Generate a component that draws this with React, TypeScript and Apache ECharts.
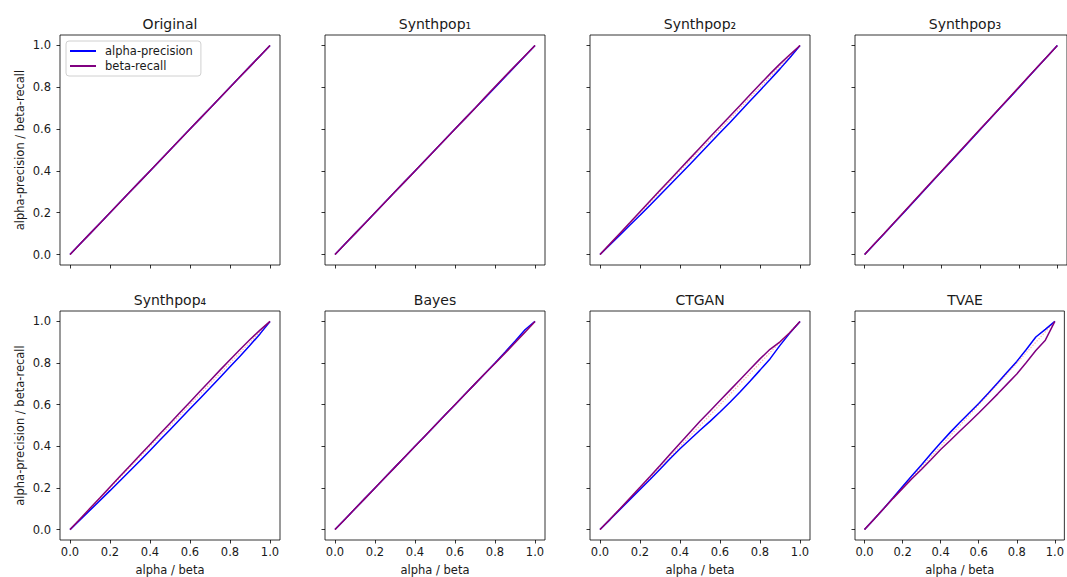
import { useEffect, useRef } from 'react';
import * as echarts from 'echarts';

// Shared alpha / beta grid for every curve
const ALPHA = [0, 0.05, 0.1, 0.15, 0.2, 0.25, 0.3, 0.35, 0.4, 0.45, 0.5, 0.55, 0.6, 0.65, 0.7, 0.75, 0.8, 0.85, 0.9, 0.95, 1.0];

const PANEL_TITLES = ['Original', 'Synthpop₁', 'Synthpop₂', 'Synthpop₃', 'Synthpop₄', 'Bayes', 'CTGAN', 'TVAE'];
const TICKS = [0, 0.2, 0.4, 0.6, 0.8, 1.0];

// alpha-precision curves, one per dataset
const ORIGINAL_AP = [0, 0.05, 0.1, 0.15, 0.2, 0.25, 0.3, 0.35, 0.4, 0.45, 0.5, 0.55, 0.6, 0.65, 0.7, 0.75, 0.8, 0.85, 0.9, 0.95, 1.0];
const SYNTHPOP1_AP = [0, 0.05, 0.1, 0.15, 0.2, 0.25, 0.3, 0.35, 0.4, 0.45, 0.5, 0.55, 0.6, 0.65, 0.7, 0.749, 0.799, 0.849, 0.9, 0.95, 1.0];
const SYNTHPOP2_AP = [0, 0.047, 0.094, 0.141, 0.188, 0.236, 0.285, 0.334, 0.383, 0.432, 0.482, 0.532, 0.582, 0.632, 0.683, 0.734, 0.785, 0.836, 0.888, 0.942, 1.0];
const SYNTHPOP3_AP = [0, 0.049, 0.098, 0.148, 0.198, 0.248, 0.298, 0.348, 0.398, 0.448, 0.498, 0.548, 0.598, 0.648, 0.698, 0.748, 0.798, 0.849, 0.899, 0.95, 1.0];
const SYNTHPOP4_AP = [0, 0.046, 0.093, 0.14, 0.187, 0.235, 0.283, 0.331, 0.38, 0.43, 0.48, 0.53, 0.58, 0.63, 0.68, 0.731, 0.782, 0.833, 0.885, 0.94, 1.0];
const BAYES_AP = [0, 0.05, 0.1, 0.15, 0.2, 0.25, 0.3, 0.35, 0.4, 0.45, 0.5, 0.55, 0.6, 0.65, 0.7, 0.75, 0.8, 0.852, 0.905, 0.96, 1.0];
const CTGAN_AP = [0, 0.048, 0.097, 0.145, 0.193, 0.241, 0.29, 0.34, 0.388, 0.433, 0.477, 0.52, 0.565, 0.612, 0.661, 0.713, 0.766, 0.82, 0.885, 0.945, 1.0];
const TVAE_AP = [0, 0.05, 0.1, 0.153, 0.207, 0.26, 0.312, 0.365, 0.417, 0.467, 0.514, 0.56, 0.606, 0.655, 0.705, 0.757, 0.808, 0.865, 0.925, 0.962, 1.0];

// beta-recall curves, one per dataset
const ORIGINAL_BR = [0, 0.05, 0.1, 0.15, 0.2, 0.25, 0.3, 0.35, 0.4, 0.45, 0.5, 0.55, 0.6, 0.65, 0.7, 0.75, 0.8, 0.85, 0.9, 0.95, 1.0];
const SYNTHPOP1_BR = [0, 0.05, 0.1, 0.15, 0.2, 0.25, 0.3, 0.35, 0.4, 0.45, 0.5, 0.55, 0.6, 0.65, 0.7, 0.752, 0.803, 0.853, 0.902, 0.951, 1.0];
const SYNTHPOP2_BR = [0, 0.051, 0.102, 0.153, 0.205, 0.256, 0.307, 0.358, 0.409, 0.46, 0.511, 0.562, 0.612, 0.663, 0.713, 0.764, 0.814, 0.864, 0.912, 0.957, 1.0];
const SYNTHPOP3_BR = [0, 0.05, 0.1, 0.15, 0.2, 0.25, 0.3, 0.35, 0.4, 0.45, 0.5, 0.55, 0.6, 0.65, 0.7, 0.75, 0.8, 0.85, 0.9, 0.95, 1.0];
const SYNTHPOP4_BR = [0, 0.051, 0.102, 0.153, 0.205, 0.256, 0.307, 0.358, 0.409, 0.46, 0.511, 0.562, 0.613, 0.664, 0.715, 0.766, 0.816, 0.865, 0.913, 0.958, 1.0];
const BAYES_BR = [0, 0.05, 0.1, 0.15, 0.2, 0.25, 0.3, 0.35, 0.4, 0.45, 0.5, 0.55, 0.6, 0.65, 0.7, 0.75, 0.798, 0.847, 0.897, 0.948, 1.0];
const CTGAN_BR = [0, 0.05, 0.1, 0.152, 0.203, 0.255, 0.308, 0.362, 0.415, 0.468, 0.52, 0.57, 0.62, 0.67, 0.72, 0.77, 0.82, 0.866, 0.902, 0.947, 1.0];
const TVAE_BR = [0, 0.05, 0.1, 0.15, 0.198, 0.245, 0.29, 0.337, 0.385, 0.428, 0.472, 0.516, 0.56, 0.606, 0.652, 0.7, 0.747, 0.803, 0.86, 0.91, 1.0];

// Diagonal reference
const DIAGONAL = [0, 1];

const PRECISION = [ORIGINAL_AP, SYNTHPOP1_AP, SYNTHPOP2_AP, SYNTHPOP3_AP, SYNTHPOP4_AP, BAYES_AP, CTGAN_AP, TVAE_AP];
const RECALL = [ORIGINAL_BR, SYNTHPOP1_BR, SYNTHPOP2_BR, SYNTHPOP3_BR, SYNTHPOP4_BR, BAYES_BR, CTGAN_BR, TVAE_BR];

const FONT = 'DejaVu Sans';
const TEXT = '#1a1a1a';

export default function App() {
  const ref = useRef<HTMLDivElement>(null);

  useEffect(() => {
    if (!ref.current) return;
    const chart = echarts.init(ref.current, undefined, { renderer: 'svg' });

    const grids: any[] = [];
    const xAxes: any[] = [];
    const yAxes: any[] = [];
    const series: any[] = [];
    const graphics: any[] = [];

    PANEL_TITLES.forEach((title, i) => {
      const row = Math.floor(i / 4);
      const col = i % 4;
      const left = 60 + 265 * col;
      const top = row === 0 ? 35 : 311;
      grids.push({
        left, top, width: 220, height: 230,
        show: true, borderColor: '#000', borderWidth: 0.8, backgroundColor: 'transparent',
        containLabel: false,
      });
      xAxes.push({
        type: 'value', gridIndex: i, min: -0.05, max: 1.05, position: 'bottom',
        axisLine: { show: false, onZero: false },
        splitLine: { show: false },
        axisTick: { show: true, inside: false, length: 3.5, customValues: TICKS, lineStyle: { color: '#000', width: 0.8 } },
        axisLabel: {
          show: row === 1, customValues: TICKS, margin: 6,
          formatter: (v: number) => v.toFixed(1),
          fontFamily: FONT, fontSize: 11.5, color: TEXT,
        },
        name: row === 1 ? 'alpha / beta' : '',
        nameLocation: 'middle', nameGap: 24,
        nameTextStyle: { fontFamily: FONT, fontSize: 11.5, color: TEXT },
      });
      yAxes.push({
        type: 'value', gridIndex: i, min: -0.05, max: 1.05, position: 'left',
        axisLine: { show: false, onZero: false },
        splitLine: { show: false },
        axisTick: { show: true, inside: false, length: 3.5, customValues: TICKS, lineStyle: { color: '#000', width: 0.8 } },
        axisLabel: {
          show: col === 0, customValues: TICKS, margin: 9,
          formatter: (v: number) => v.toFixed(1),
          fontFamily: FONT, fontSize: 11.5, color: TEXT,
        },
        name: col === 0 ? 'alpha-precision / beta-recall' : '',
        nameLocation: 'middle', nameGap: 34,
        nameTextStyle: { fontFamily: FONT, fontSize: 11.5, color: TEXT },
      });

      series.push({
        type: 'line', name: 'alpha-precision', xAxisIndex: i, yAxisIndex: i,
        data: ALPHA.map((a, k) => [a, PRECISION[i][k]]),
        showSymbol: false, symbol: 'none', silent: true,
        lineStyle: { color: '#0000ff', width: 1.5 }, itemStyle: { color: '#0000ff' },
      });
      series.push({
        type: 'line', name: 'beta-recall', xAxisIndex: i, yAxisIndex: i,
        data: ALPHA.map((a, k) => [a, RECALL[i][k]]),
        showSymbol: false, symbol: 'none', silent: true,
        lineStyle: { color: '#800080', width: 1.5 }, itemStyle: { color: '#800080' },
      });
      series.push({
        type: 'line', name: 'diagonal', xAxisIndex: i, yAxisIndex: i,
        data: DIAGONAL.map((d) => [d, d]),
        showSymbol: false, symbol: 'none', silent: true,
        lineStyle: { color: '#ff0000', width: 1.2, type: [1.5, 1.5], opacity: 0.3 },
      });

      graphics.push({
        type: 'text', x: left + 110, y: row === 0 ? 24 : 300,
        style: {
          text: title, align: 'center', verticalAlign: 'middle',
          fontFamily: FONT, fontSize: 14, fontWeight: 'normal', fill: '#1a1a1a',
        },
      });
    });

    chart.setOption({
      animation: false,
      backgroundColor: '#fff',
      grid: grids,
      xAxis: xAxes,
      yAxis: yAxes,
      series,
      graphic: graphics,
      legend: {
        data: ['alpha-precision', 'beta-recall'],
        orient: 'vertical', left: 66, top: 41,
        padding: [4, 8, 4, 4], itemGap: 3,
        itemWidth: 26, itemHeight: 2, icon: 'rect',
        backgroundColor: 'rgba(255,255,255,0.8)',
        borderColor: '#d0d0d0', borderWidth: 1, borderRadius: 3,
        textStyle: { fontFamily: FONT, fontSize: 11.5, color: TEXT, padding: [0, 0, 0, 4] },
        selectedMode: false,
      },
    });

    return () => chart.dispose();
  }, []);

  return (
    <div
      ref={ref}
      style={{ position: 'fixed', left: 0, top: 0, width: 1067, height: 577 }}
    />
  );
}
